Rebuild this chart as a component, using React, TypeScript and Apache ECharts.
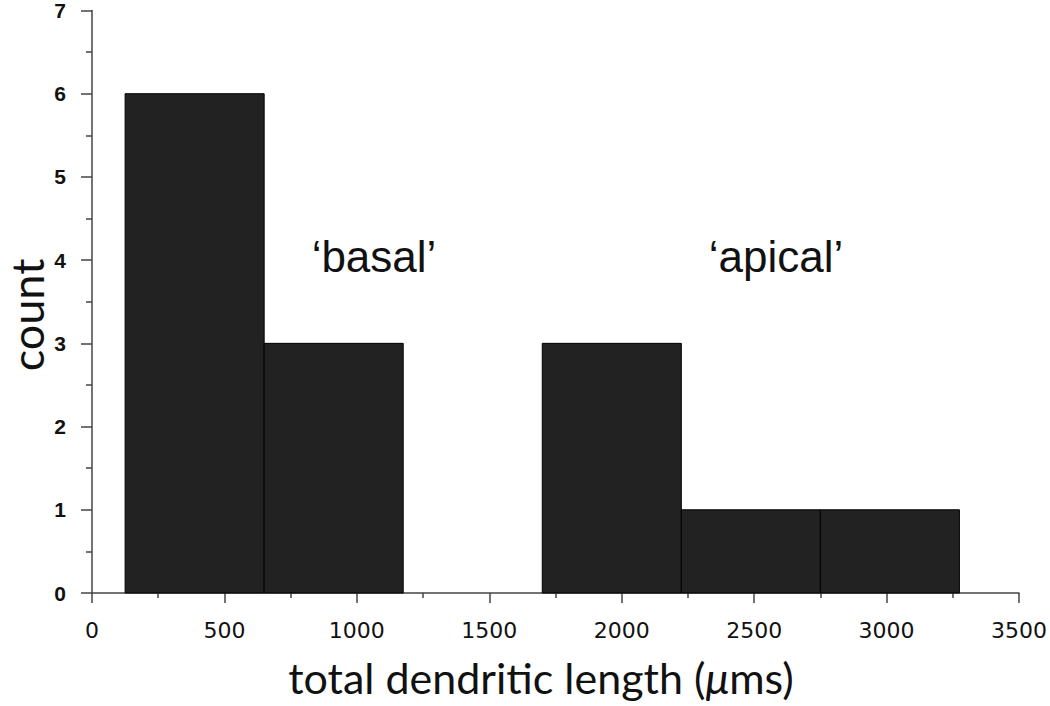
import React, { useEffect, useRef } from "react";
import * as echarts from "echarts";

const binStarts = [125, 650, 1700, 2225, 2750];
const binEnds = [650, 1175, 2225, 2750, 3275];
const counts = [6, 3, 3, 1, 1];
const xTitle = "total dendritic length (";
const yTitle = "count";
const groupLabels = ["\u2018basal\u2019", "\u2018apical\u2019"];

export default function App() {
  const ref = useRef<HTMLDivElement>(null);
  useEffect(() => {
    document.body.style.margin = "0";
    const chart = echarts.init(ref.current!, null, { renderer: "svg" });
    const data = counts.map((c, i) => [binStarts[i], binEnds[i], c]);
    chart.setOption({
      animation: false,
      backgroundColor: "#fff",
      grid: { left: 92, right: 30, top: 5, bottom: 113 },
      xAxis: {
        type: "value",
        min: 0,
        max: 3500,
        interval: 500,
        splitLine: { show: false },
        axisLine: { lineStyle: { color: "#444", width: 1.5 } },
        axisTick: { length: 10, lineStyle: { color: "#444", width: 1.5 } },
        minorTick: { show: true, splitNumber: 2, length: 5, lineStyle: { color: "#444", width: 1.5 } },
        axisLabel: {
          color: "#111",
          fontFamily: "DejaVu Sans",
          fontSize: 22,
          margin: 26,
          formatter: (v: number) => String(v),
        },
      },
      yAxis: {
        type: "value",
        min: 0,
        max: 7,
        interval: 1,
        splitLine: { show: false },
        axisLine: { show: true, lineStyle: { color: "#444", width: 1.5 } },
        axisTick: { show: true, length: 11, lineStyle: { color: "#444", width: 1.5 } },
        minorTick: { show: true, splitNumber: 2, length: 6, lineStyle: { color: "#444", width: 1.5 } },
        axisLabel: {
          color: "#111",
          fontFamily: "Liberation Sans",
          fontWeight: "bold",
          fontSize: 21,
          margin: 26,
          formatter: (v: number) => String(v),
        },
      },
      series: [
        {
          type: "custom",
          data,
          renderItem: (params: any, api: any) => {
            const p0 = api.coord([api.value(0), 0]);
            const p1 = api.coord([api.value(1), api.value(2)]);
            return {
              type: "rect",
              shape: { x: p0[0], y: p1[1], width: p1[0] - p0[0], height: p0[1] - p1[1] },
              style: { fill: "#222", stroke: "#000", lineWidth: 1 },
            };
          },
        },
      ],
      graphic: [
        {
          type: "text",
          x: 541,
          y: 677,
          style: {
            text: "{a|" + xTitle + "}{b|\u03bc}{a|ms)}",
            align: "center",
            verticalAlign: "middle",
            rich: {
              a: { fontFamily: "Lato", fontSize: 43, fill: "#111" },
              b: { fontFamily: "Lato", fontStyle: "italic", fontSize: 43, fill: "#111" },
            },
          },
        },
        {
          type: "text",
          x: 27,
          y: 315,
          rotation: Math.PI / 2,
          style: {
            text: yTitle,
            fontFamily: "Lato",
            fontSize: 45,
            lineHeight: 44,
            fill: "#111",
            align: "center",
            verticalAlign: "middle",
          },
        },
        {
          type: "text",
          x: 374,
          y: 256,
          style: {
            text: groupLabels[0],
            fontFamily: "Liberation Sans",
            fontSize: 44,
            fill: "#111",
            align: "center",
            verticalAlign: "middle",
          },
        },
        {
          type: "text",
          x: 776,
          y: 256,
          style: {
            text: groupLabels[1],
            fontFamily: "Liberation Sans",
            fontSize: 44,
            fill: "#111",
            align: "center",
            verticalAlign: "middle",
          },
        },
      ],
    });
    return () => chart.dispose();
  }, []);
  return <div ref={ref} style={{ width: 1050, height: 706 }} />;
}
